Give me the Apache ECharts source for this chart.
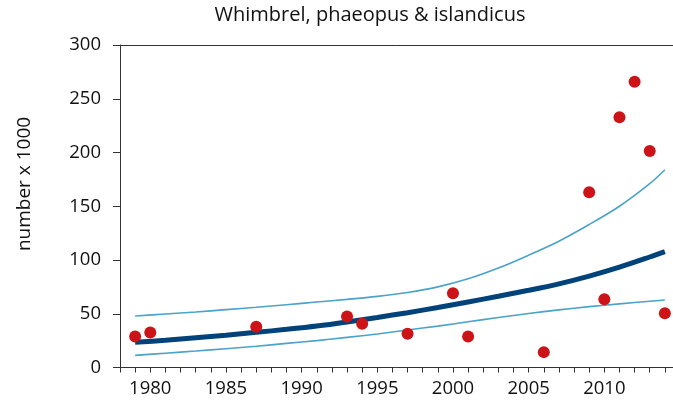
<!DOCTYPE html>
<html>
<head>
<meta charset="utf-8">
<script src="https://cdn.jsdelivr.net/npm/echarts@6/dist/echarts.min.js"></script>
<style>
html,body{margin:0;padding:0;background:#fff;}
#c{width:673px;height:405px;}
</style>
</head>
<body>
<div id="c"></div>
<script>
var titleText = 'Whimbrel, phaeopus & islandicus';
var yAxisName = 'number x 1000';

// observed counts (year, number x 1000)
var obsYears  = [1979, 1980, 1987, 1993, 1994, 1997, 2000, 2001, 2006, 2009, 2010, 2011, 2012, 2013, 2014];
var obsValues = [28.8, 32.5, 37.8, 47.4, 40.6, 31.3, 69.1, 28.8, 14.3, 163, 63.5, 232.7, 265.9, 201.4, 50.5];

// trend line (thick dark)
var trendYears  = [1979, 1981, 1983, 1985, 1987, 1989, 1991, 1993, 1995, 1997, 1999, 2001, 2003, 2005, 2007, 2009, 2011, 2013, 2014];
var trendValues = [23.4, 25.4, 27.7, 30.1, 32.7, 35.5, 38.6, 42.4, 46.6, 51.0, 55.8, 61.0, 66.3, 71.8, 77.8, 85.0, 93.3, 102.8, 107.8];

// upper confidence limit
var upperYears  = [1979, 1981, 1983, 1985, 1987, 1989, 1991, 1993, 1995, 1997, 1999, 2001, 2003, 2005, 2007, 2009, 2011, 2013, 2014];
var upperValues = [47.9, 49.7, 51.6, 53.8, 56.0, 58.4, 60.9, 63.4, 66.2, 69.8, 75.0, 82.5, 92.5, 104.5, 117.5, 133, 150, 171, 184];

// lower confidence limit
var lowerYears  = [1979, 1981, 1983, 1985, 1987, 1989, 1991, 1993, 1995, 1997, 1999, 2001, 2003, 2005, 2007, 2009, 2011, 2013, 2014];
var lowerValues = [11.3, 13.3, 15.3, 17.5, 19.8, 22.4, 25.0, 28.0, 31.2, 34.9, 38.5, 42.5, 46.5, 50.3, 53.6, 56.6, 59.2, 61.6, 62.8];

var yTickLabels = ['0', '50', '100', '150', '200', '250', '300'];
var xLabelYears = [1980, 1985, 1990, 1995, 2000, 2005, 2010];

function pairs(xs, ys) { return xs.map(function (x, i) { return [x, ys[i]]; }); }

var FONT = '"Open Sans", sans-serif';
var AX = '#333';
var FS = 18.5;

var chart = echarts.init(document.getElementById('c'), null, {renderer: 'canvas'});
chart.setOption({
  animation: false,
  backgroundColor: '#fff',
  textStyle: {fontFamily: FONT},
  title: {
    text: titleText,
    left: 365,
    top: 0,
    textAlign: 'center',
    textStyle: {fontFamily: FONT, fontSize: 20, fontWeight: 'normal', color: '#111'}
  },
  graphic: [{
    type: 'text',
    x: 25,
    y: 184,
    rotation: Math.PI / 2,
    style: {
      text: yAxisName,
      font: '19px ' + FONT,
      fill: '#111',
      align: 'center',
      verticalAlign: 'middle'
    }
  }],
  grid: {
    left: 120, top: 45, right: -7, bottom: 37.5,
    outerBoundsMode: 'none',
    containLabel: false,
    show: false
  },
  xAxis: [{
    type: 'value',
    min: 1978, max: 2015, interval: 1,
    axisLine: {show: true, onZero: false, lineStyle: {color: AX, width: 1}},
    axisTick: {show: true, length: 5, lineStyle: {color: AX}},
    splitLine: {show: false},
    axisLabel: {
      margin: 12,
      fontSize: FS, color: '#111', fontFamily: FONT,
      formatter: function (v) { return xLabelYears.indexOf(v) >= 0 ? String(v) : ''; }
    }
  }, {
    type: 'value', position: 'top',
    min: 1978, max: 2015, interval: 1,
    axisLine: {show: true, onZero: false, lineStyle: {color: AX, width: 1}},
    axisTick: {show: false}, axisLabel: {show: false}, splitLine: {show: false}
  }],
  yAxis: {
    type: 'value',
    min: 0, max: 300, interval: 50,
    axisLine: {show: true, lineStyle: {color: AX, width: 1}},
    axisTick: {show: true, length: 7, lineStyle: {color: AX}},
    splitLine: {show: false},
    axisLabel: {
      margin: 19,
      fontSize: FS, color: '#111', fontFamily: FONT,
      formatter: function (v) { var i = v / 50; return yTickLabels[i] !== undefined ? yTickLabels[i] : ''; }
    }
  },
  series: [
    {
      type: 'line', name: 'upper', data: pairs(upperYears, upperValues),
      smooth: 0.3, showSymbol: false, symbol: 'none',
      lineStyle: {color: '#4aa3c8', width: 1.6}, z: 2
    },
    {
      type: 'line', name: 'lower', data: pairs(lowerYears, lowerValues),
      smooth: 0.3, showSymbol: false, symbol: 'none',
      lineStyle: {color: '#4aa3c8', width: 1.6}, z: 2
    },
    {
      type: 'line', name: 'trend', data: pairs(trendYears, trendValues),
      smooth: 0.3, showSymbol: false, symbol: 'none',
      lineStyle: {color: '#00437a', width: 5}, z: 3
    },
    {
      type: 'scatter', name: 'counts', data: pairs(obsYears, obsValues),
      symbol: 'circle', symbolSize: 12,
      itemStyle: {color: '#cc1418', opacity: 1}, z: 5
    }
  ]
});
</script>
</body>
</html>
